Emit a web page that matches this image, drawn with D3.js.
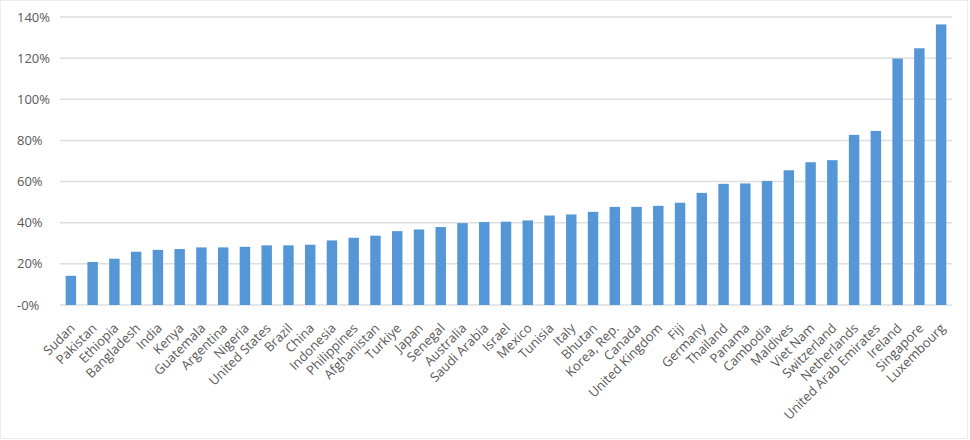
<!DOCTYPE html>
<html>
<head>
<meta charset="utf-8">
<script src="https://cdn.jsdelivr.net/npm/d3@7"></script>
<style>
  body { margin: 0; background: #fff; }
  svg { display: block; font-family: "Open Sans", sans-serif; }
</style>
</head>
<body>
<div id="container"></div>
<script>
// countries, sorted by value
var countries = ["Sudan", "Pakistan", "Ethiopia", "Bangladesh", "India", "Kenya", "Guatemala",
  "Argentina", "Nigeria", "United States", "Brazil", "China", "Indonesia", "Philippines",
  "Afghanistan", "Turkiye", "Japan", "Senegal", "Australia", "Saudi Arabia", "Israel",
  "Mexico", "Tunisia", "Italy", "Bhutan", "Korea, Rep.", "Canada", "United Kingdom", "Fiji",
  "Germany", "Thailand", "Panama", "Cambodia", "Maldives", "Viet Nam", "Switzerland",
  "Netherlands", "United Arab Emirates", "Ireland", "Singapore", "Luxembourg"];

// percent values
var values = [14.2, 20.9, 22.5, 25.9, 26.8, 27.2, 28.0, 28.0, 28.3, 29.0, 29.0, 29.3, 31.4, 32.7,
  33.7, 35.9, 36.7, 37.9, 39.8, 40.3, 40.5, 41.1, 43.5, 44.0, 45.3, 47.7, 47.7, 48.2, 49.7,
  54.5, 58.9, 59.1, 60.3, 65.5, 69.4, 70.4, 82.7, 84.6, 119.8, 124.8, 136.4];

var yTicks = [0, 20, 40, 60, 80, 100, 120, 140];

var width = 970, height = 440;
var svg = d3.select("div#container").append("svg")
  .attr("width", width)
  .attr("height", height);

// faint chart frame
svg.append("rect")
  .attr("x", 0.5).attr("y", 0.5)
  .attr("width", width - 3).attr("height", height - 2)
  .attr("fill", "#fff")
  .attr("stroke", "#ececec");

var x = d3.scaleBand()
  .domain(countries)
  .range([60, 952])
  .paddingInner(0.52)
  .paddingOuter(0.26);

var y = d3.scaleLinear()
  .domain([0, 140])
  .range([305, 17]);

// gridlines
svg.append("g").selectAll("line")
  .data(yTicks)
  .enter().append("line")
    .attr("x1", 60).attr("x2", 952)
    .attr("y1", function(d) { return y(d); })
    .attr("y2", function(d) { return y(d); })
    .attr("stroke", "#dedede")
    .attr("stroke-width", 1.5);

// y labels (left aligned like the original)
svg.append("g").selectAll("text")
  .data(yTicks)
  .enter().append("text")
    .attr("x", 17)
    .attr("y", function(d) { return y(d); })
    .attr("dy", "0.35em")
    .attr("fill", "#595959")
    .style("font-size", "13px")
    .text(function(d) { return d === 0 ? "-0%" : d + "%"; });

// bars
svg.append("g").selectAll("rect")
  .data(countries)
  .enter().append("rect")
    .attr("x", function(d) { return x(d); })
    .attr("width", x.bandwidth())
    .attr("y", function(d, i) { return y(values[i]); })
    .attr("height", function(d, i) { return y(0) - y(values[i]); })
    .attr("fill", "#5596d6");

// x axis, rotated labels
var xAxis = svg.append("g")
  .attr("transform", "translate(0," + y(0) + ")")
  .call(d3.axisBottom(x).tickSize(0).tickPadding(0));
xAxis.select(".domain").remove();
xAxis.selectAll("text")
  .attr("fill", "#595959")
  .style("font-size", "13px")
  .style("font-family", "'Open Sans', sans-serif")
  .attr("text-anchor", "end")
  .attr("y", 0)
  .attr("dy", 0)
  .attr("transform", "translate(5,24) rotate(-45)");
</script>
</body>
</html>
